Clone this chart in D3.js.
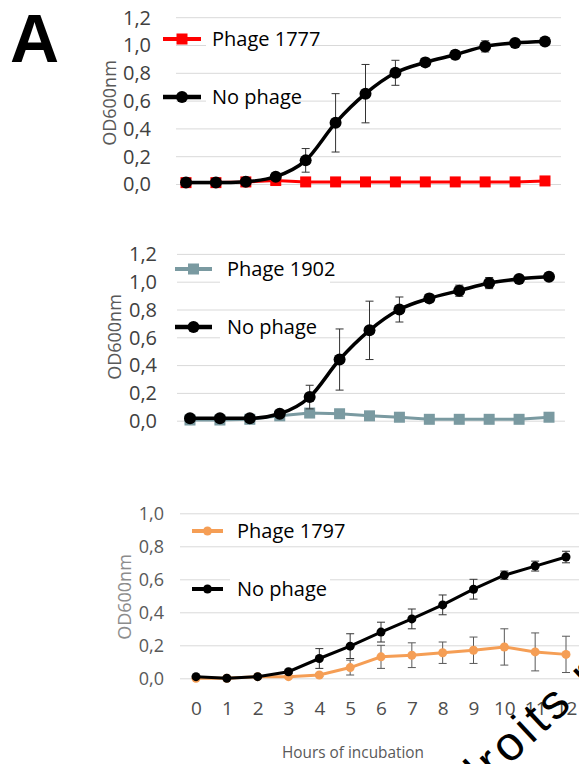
<!DOCTYPE html>
<html><head><meta charset="utf-8">
<script src="https://cdn.jsdelivr.net/npm/d3@7"></script>
<style>html,body{margin:0;padding:0;background:#fff;}svg{display:block;font-family:"Open Sans",sans-serif;}</style>
</head><body>
<svg id="c" width="579" height="764"></svg>
<script>
// ---- data ----
const hours = [0,1,2,3,4,5,6,7,8,9,10,11,12];
const yTicksTop = [0,0.2,0.4,0.6,0.8,1.0,1.2];
const yTicksBottom = [0,0.2,0.4,0.6,0.8,1.0];
const xTickLabels = ["0","1","2","3","4","5","6","7","8","9","10","11","12"];

const p1NoPhage    = [0.01,0.01,0.017,0.053,0.17,0.44,0.65,0.80,0.875,0.93,0.99,1.015,1.025];
const p1NoPhageErr = [0,0,0,0.01,0.085,0.21,0.21,0.09,0.03,0.03,0.04,0.015,0.01];
const p1Phage1777  = [0.01,0.01,0.015,0.025,0.015,0.015,0.015,0.015,0.015,0.015,0.015,0.015,0.022];

const p2NoPhage    = [0.017,0.017,0.017,0.05,0.17,0.44,0.65,0.80,0.88,0.935,0.99,1.02,1.035];
const p2NoPhageErr = [0,0,0,0.01,0.085,0.22,0.21,0.09,0.03,0.04,0.04,0.02,0.01];
const p2Phage1902  = [0.005,0.005,0.01,0.035,0.055,0.05,0.035,0.025,0.01,0.01,0.01,0.01,0.025];

const p3NoPhage    = [0.01,0.0,0.01,0.04,0.12,0.195,0.28,0.36,0.445,0.54,0.625,0.68,0.735];
const p3NoPhageErr = [0.005,0.005,0.005,0.01,0.06,0.075,0.06,0.06,0.06,0.06,0.025,0.03,0.035];
const p3Phage1797  = [0.0,0.0,0.01,0.01,0.02,0.065,0.13,0.14,0.155,0.17,0.19,0.16,0.145];
const p3Phage1797Err = [0,0,0,0.005,0.01,0.045,0.07,0.075,0.065,0.08,0.11,0.115,0.11];

const svg = d3.select("#c");

// Panel letter
svg.append("text").attr("x",10).attr("y",62).attr("font-family","Liberation Sans, Arial, sans-serif")
  .attr("font-weight","bold").attr("font-size",68).attr("fill","#000").text("A");

function panel(cfg){
  const x = d3.scaleLinear().domain([0,12]).range([cfg.x0,cfg.x1]);
  const y = d3.scaleLinear().domain([0,cfg.ymax]).range([cfg.y0,cfg.ytop]);
  const g = svg.append("g");
  // gridlines
  const yAxis = d3.axisLeft(y).tickValues(cfg.yTicks).tickSize(-(cfg.gx1-cfg.gx0)).tickFormat(d=>d3.format(".1f")(d).replace(".",","));
  const ga = g.append("g").attr("transform",`translate(${cfg.gx0},0)`).call(yAxis);
  ga.select(".domain").remove();
  ga.selectAll(".tick line").attr("stroke","#d9d9d9").attr("stroke-width",1);
  ga.selectAll(".tick text").attr("x",cfg.tickRight-cfg.gx0).attr("dy","0.34em").attr("fill",cfg.tickColor)
    .attr("font-size",cfg.tickSize).attr("font-family","Open Sans, sans-serif");
  // y title
  g.append("text").attr("transform",`translate(${cfg.titleX},${cfg.titleY}) rotate(-90)`)
    .attr("text-anchor","middle").attr("dy","0.35em").attr("font-size",18).attr("fill",cfg.titleColor).text("OD600nm");
  // legend white boxes
  cfg.legend.forEach(l=>{
    g.append("rect").attr("x",l.boxX).attr("y",l.y-14).attr("width",l.boxW).attr("height",28).attr("fill","#fff");
  });
  // x axis labels
  if(cfg.xLabels){
    const xAxis = d3.axisBottom(x).tickValues(hours).tickSize(0).tickFormat((d,i)=>xTickLabels[i]);
    const gx = g.append("g").attr("transform",`translate(0,${cfg.xLabelY})`).call(xAxis);
    gx.select(".domain").remove();
    gx.selectAll("text").attr("font-size",19).attr("fill","#4d4d4d").attr("dy","0.35em").attr("y",0)
      .attr("font-family","Open Sans, sans-serif");
  }
  // series
  cfg.series.forEach(s=>{
    const line = d3.line().x((d,i)=>x(hours[i])).y(d=>y(d)).curve(s.curve||d3.curveLinear);
    // error bars
    if(s.err){
      s.values.forEach((v,i)=>{
        const e=s.err[i]; if(!e) return;
        const xx=x(hours[i]);
        g.append("line").attr("x1",xx).attr("x2",xx).attr("y1",y(v-e)).attr("y2",y(v+e)).attr("stroke",s.errColor).attr("stroke-width",1);
        [v-e,v+e].forEach(t=>g.append("line").attr("x1",xx-4).attr("x2",xx+4).attr("y1",y(t)).attr("y2",y(t)).attr("stroke",s.errColor).attr("stroke-width",1));
      });
    }
    g.append("path").attr("d",line(s.values)).attr("fill","none").attr("stroke",s.color).attr("stroke-width",s.width);
    s.values.forEach((v,i)=>{
      const xx=x(hours[i]), yy=y(v);
      if(s.marker==="square") g.append("rect").attr("x",xx-s.size/2).attr("y",yy-s.size/2).attr("width",s.size).attr("height",s.size).attr("fill",s.color);
      else g.append("circle").attr("cx",xx).attr("cy",yy).attr("r",s.size/2).attr("fill",s.color);
    });
    // legend
    const l = s.leg;
    g.append("line").attr("x1",l.lx0).attr("x2",l.lx1).attr("y1",l.y).attr("y2",l.y).attr("stroke",s.color).attr("stroke-width",s.width+1);
    const mx=(l.lx0+l.lx1)/2;
    if(s.marker==="square") g.append("rect").attr("x",mx-s.size/2).attr("y",l.y-s.size/2).attr("width",s.size).attr("height",s.size).attr("fill",s.color);
    else g.append("circle").attr("cx",mx).attr("cy",l.y).attr("r",s.size/2).attr("fill",s.color);
    g.append("text").attr("x",l.tx).attr("y",l.y).attr("dy","0.35em").attr("font-size",20).attr("fill","#000").text(s.name);
  });
}

panel({x0:186,x1:545,y0:184,ytop:17.2,ymax:1.2,gx0:176,gx1:561,yTicks:yTicksTop,tickRight:151,tickColor:"#404040",tickSize:20,
  titleX:110,titleY:103,titleColor:"#595959",
  legend:[{boxX:206,boxW:108,y:39},{boxX:206,boxW:90,y:97}],
  series:[
    {name:"Phage 1777",values:p1Phage1777,color:"#ff0000",width:3,marker:"square",size:11,leg:{lx0:163,lx1:201,y:39,tx:212}},
    {name:"No phage",values:p1NoPhage,err:p1NoPhageErr,errColor:"#333",color:"#000",width:3.5,marker:"circle",size:12,curve:d3.curveMonotoneX,leg:{lx0:163,lx1:201,y:97,tx:212}}
  ]});

panel({x0:190,x1:549,y0:420.7,ytop:253.9,ymax:1.2,gx0:177,gx1:565,yTicks:yTicksTop,tickRight:157,tickColor:"#404040",tickSize:20,
  titleX:115,titleY:337,titleColor:"#595959",
  legend:[{boxX:220,boxW:110,y:269},{boxX:220,boxW:90,y:327}],
  series:[
    {name:"Phage 1902",values:p2Phage1902,color:"#7a9aa1",width:3,marker:"square",size:11,leg:{lx0:175,lx1:212,y:269,tx:227}},
    {name:"No phage",values:p2NoPhage,err:p2NoPhageErr,errColor:"#333",color:"#000",width:3.5,marker:"circle",size:12,curve:d3.curveMonotoneX,leg:{lx0:175,lx1:212,y:327,tx:227}}
  ]});

panel({x0:196,x1:566,y0:678.3,ytop:513.3,ymax:1.0,gx0:180,gx1:579,yTicks:yTicksBottom,tickRight:164,tickColor:"#595959",tickSize:18,
  titleX:125,titleY:597,titleColor:"#8c8c8c",
  legend:[{boxX:230,boxW:118,y:531},{boxX:230,boxW:100,y:589}],
  xLabels:true,xLabelY:708,
  series:[
    {name:"Phage 1797",values:p3Phage1797,err:p3Phage1797Err,errColor:"#595959",color:"#f59e55",width:3,marker:"circle",size:9,leg:{lx0:192,lx1:223,y:531,tx:237}},
    {name:"No phage",values:p3NoPhage,err:p3NoPhageErr,errColor:"#333",color:"#000",width:3,marker:"circle",size:9,leg:{lx0:192,lx1:223,y:589,tx:237}}
  ]});

svg.append("text").attr("x",353).attr("y",752).attr("dy","0.35em").attr("text-anchor","middle")
  .attr("font-size",16.5).attr("textLength",142).attr("lengthAdjust","spacingAndGlyphs")
  .attr("fill","#595959").text("Hours of incubation");

// watermark
svg.append("text").attr("transform","translate(472,800) rotate(-43)").attr("font-family","Liberation Sans, Arial, sans-serif")
  .attr("font-size",48).attr("letter-spacing",4).attr("fill","#000").text("droits réservés");
</script>
</body></html>
